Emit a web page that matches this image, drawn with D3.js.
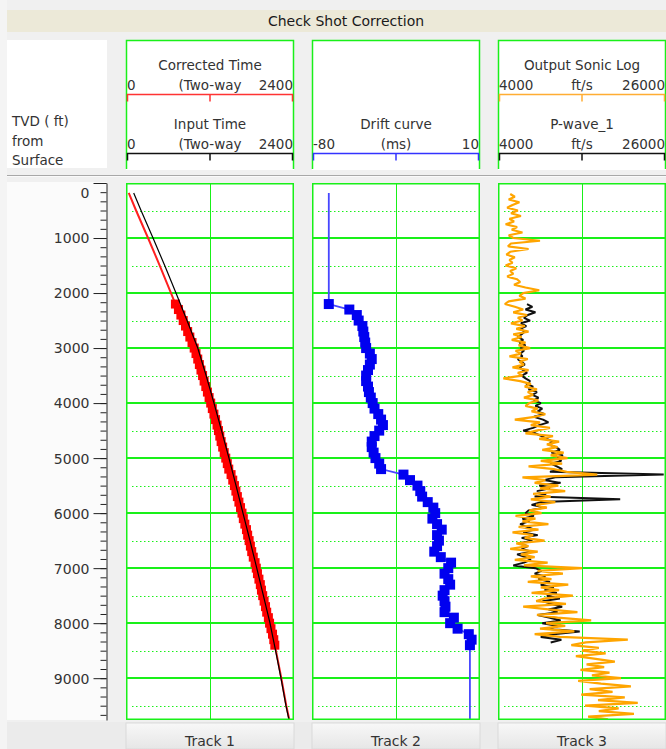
<!DOCTYPE html>
<html>
<head>
<meta charset="utf-8">
<script src="https://cdn.jsdelivr.net/npm/d3@7"></script>
<style>
body { margin: 0; background: #f4f4f4; }
svg { display: block; font-family: 'DejaVu Sans', sans-serif; }
</style>
</head>
<body>
<svg width="666" height="749"></svg>
<script>
/**
 */
var chartTitle = 'Check Shot Correction';
var depthLabel = ['TVD ( ft)', 'from', 'Surface'];
var trackNames = ['Track 1', 'Track 2', 'Track 3'];
var depthMax = 9760;
var depthTicks = [0, 1000, 2000, 3000, 4000, 5000, 6000, 7000, 8000, 9000];

// header curves: name, unit, scale min / max
var curveNames = ['Corrected Time', 'Input Time', 'Drift curve', 'Output Sonic Log', 'P-wave_1'];
var curveUnits = ['(Two-way', '(Two-way', '(ms)', 'ft/s', 'ft/s'];
var curveMin = [0, 0, -80, 4000, 4000];
var curveMax = [2400, 2400, 10, 26000, 26000];

// Track 1 - input time (two-way ms) against depth
var inputDepth = [180, 500, 1000, 1500, 2000, 2500, 3000, 3500, 4000, 4500, 5000,
    5500, 6000, 6500, 7000, 7500, 8000, 8500, 9000, 9500, 9760];
var inputTime = [110, 215, 386, 553, 714, 872, 1025, 1145, 1257, 1365, 1471,
    1572, 1671, 1771, 1868, 1963, 2057, 2137, 2214, 2285, 2329];

// Track 1 - corrected time above and below the check shots
var correctedTopDepth = [180, 500, 1000, 1500, 2000];
var correctedTopTime = [39, 144, 315, 482, 643];
var correctedBottomDepth = [8500, 9000, 9500, 9760];
var correctedBottomTime = [2142, 2219, 2290, 2334];

// check shot stations (every 100 ft)
var checkshotDepth = d3.range(2200, 8401, 100);
var correctedTime = [706, 749, 784, 817, 850,
    881, 912, 943, 974, 1000,
    1025, 1048, 1071, 1094, 1116,
    1140, 1163, 1187, 1210, 1233,
    1256, 1279, 1301, 1321, 1340,
    1359, 1381, 1403, 1425, 1447,
    1468, 1501, 1525, 1549, 1570,
    1591, 1613, 1636, 1657, 1676,
    1698, 1721, 1738, 1759, 1777,
    1796, 1818, 1844, 1861, 1878,
    1899, 1919, 1935, 1953, 1973,
    1993, 2010, 2034, 2051, 2071,
    2093, 2111, 2126];

// Track 2 - drift (ms) at the check shots
var driftTopDepth = 180;
var driftTop = -71;
var driftBottom = 4.6;
var drift = [-71, -60, -56, -55, -53,
    -52.5, -52, -51.5, -51, -49,
    -48, -49, -50, -51, -51,
    -50, -49.5, -48.5, -47.5, -46.5,
    -44.5, -43, -42, -44, -46.5,
    -48, -48, -47, -46, -44,
    -43, -31, -27.5, -23.5, -22,
    -21, -18, -15, -14, -15.5,
    -13, -10.5, -13, -12, -13,
    -14.5, -11, -5.5, -7, -9,
    -7, -6, -9, -10, -9,
    -8.5, -9, -4, -6, -2,
    4, 5.5, 4.6];

// Track 3 - output sonic log (ft/s), every 50 ft from 200 ft
var sonicStart = 200, sonicStep = 50;
var sonicOut = [5600, 6200, 5400, 6800, 5900, 5200, 6600, 5700, 7000, 5500,
    6100, 5000, 6500, 5800, 7200, 5400, 6000, 9500, 5700, 5300,
    8000, 5600, 5100, 6200, 5500, 5900, 5000, 6400, 5600, 6000,
    5200, 6500, 6900, 6100, 7600, 9400, 7300, 6800, 7600, 5400,
    4900, 6200, 7300, 6000, 7800, 6600, 7200, 5700, 7500, 6400,
    8000, 6000, 7100, 5800, 7600, 6700, 8200, 6300, 7000, 5500,
    7900, 6800, 7400, 5900, 8000, 6600, 7200, 4700, 6900, 8300,
    7500, 9100, 7900, 8600, 7400, 9300, 8100, 7600, 9200, 8400,
    10200, 8800, 6200, 9500, 8300, 10800, 9000, 7600, 11200, 9400,
    12000, 10400, 11800, 9800, 12600, 10900, 13100, 9600, 12400, 8000,
    11300, 13000, 17000, 7200, 10200, 8800, 11900, 9500, 12800, 8600,
    10900, 8300, 11500, 9000, 10400, 8100, 9700, 6300, 8900, 7200,
    10600, 6700, 9300, 5900, 8600, 7500, 10100, 6400, 8000, 5600,
    9200, 7000, 8800, 6200, 10500, 7400, 15000, 9200, 12500, 8300,
    11000, 7900, 13200, 9600, 12000, 8400, 13800, 10200, 9000, 12900,
    7300, 10600, 14400, 9100, 11800, 16200, 10300, 12800, 9500, 14000,
    8800, 12100, 21000, 15500, 13600, 17200, 15000, 18100, 14200, 16800,
    19300, 15600, 17900, 14800, 18600, 16300, 20100, 14500, 17500, 21400,
    16000, 19000, 14900, 20600, 17100, 22300, 15400, 19800, 17200, 21800,
    15800, 18400];

// Track 3 - P-wave_1 (ft/s), every 50 ft from 2200 ft
var pwaveStart = 2200, pwaveStep = 50;
var pwave = [7800, 8500, 7600, 8900, 7900, 7400, 8200, 7000, 7700, 6900,
    7500, 7100, 6600, 7300, 6800, 7600, 7000, 7400, 6900, 7200,
    6600, 7100, 7500, 6800, 7300, 7800, 7100, 7600, 8200, 7700,
    8600, 8000, 9100, 8500, 9300, 8700, 9600, 8900, 9800, 9200,
    10100, 8700, 9900, 10600, 9400, 8600, 7300, 8900, 9700, 10400,
    11200, 10600, 11600, 12100, 11000, 12500, 11800, 12300, 10900, 11700,
    12400, 10800, 25700, 11500, 10000, 12200, 9400, 10800, 9100, 10300,
    8800, 20000, 9600, 8400, 10100, 8000, 7600, 8700, 7200, 8100,
    6900, 7800, 8800, 7300, 9200, 7100, 8500, 6700, 7900, 7100,
    8400, 6500, 7600, 8300, 7400, 6000, 8900, 9700, 8800, 10200,
    9300, 10800, 9600, 11300, 10100, 11700, 10400, 12100, 9800, 11000,
    12400, 10600, 11800, 9200, 10800, 12200, 9800, 11900, 10500, 14700,
    11300, 9600, 12300, 10900];

/**
 * Layout
 */
var svg = d3.select('svg');
var svgWidth = +svg.attr('width');
var svgHeight = +svg.attr('height');

var panelLeft = 7;
var trackLeft = [126, 312, 498];
var trackWidth = 168;
var headerTop = 40, headerBottom = 168;
var bodyTop = 183, bodyBottom = 720;
var gridColor = '#19f019';
var textColor = '#333';

var yScale = d3.scaleLinear().domain([0, depthMax]).range([bodyTop, bodyBottom]);

// one x scale per curve, placed in its track
var curveTrack = [0, 0, 1, 2, 2];
var xScales = curveMin.map(function(mn, i) {
    var x0 = trackLeft[curveTrack[i]];
    return d3.scaleLinear().domain([mn, curveMax[i]]).range([x0, x0 + trackWidth]);
});

// page background
svg.append('rect').attr('x', panelLeft).attr('y', 0)
    .attr('width', svgWidth - panelLeft).attr('height', svgHeight).attr('fill', '#f0f0f0');

// title bar
svg.append('rect').attr('x', panelLeft).attr('y', 10)
    .attr('width', svgWidth - panelLeft).attr('height', 22).attr('fill', '#ece9d8');
svg.append('text').attr('x', 346).attr('y', 26)
    .attr('text-anchor', 'middle').attr('font-size', 14).attr('fill', '#1a1a1a')
    .text(chartTitle);

/**
 * Header
 */
svg.append('rect').attr('x', panelLeft).attr('y', headerTop)
    .attr('width', 100).attr('height', headerBottom - headerTop).attr('fill', '#fff');
svg.append('g').selectAll('text').data(depthLabel).enter().append('text')
    .attr('x', 12).attr('y', function(d, i) { return 126 + i * 19.5; })
    .attr('font-size', 13.5).attr('fill', textColor)
    .text(function(d) { return d; });

trackLeft.forEach(function(x0) {
    svg.append('rect').attr('x', x0).attr('y', headerTop)
        .attr('width', trackWidth).attr('height', headerBottom - headerTop + 2).attr('fill', '#fff');
    svg.append('path')
        .attr('d', 'M' + (x0 + 0.5) + ',' + (headerBottom + 1) + 'V' + (headerTop + 0.5) +
            'H' + (x0 + trackWidth - 0.5) + 'V' + (headerBottom + 1))
        .attr('fill', 'none').attr('stroke', gridColor).attr('stroke-width', 1.5);
});

// curve legends: row 0 sits at the top of the header, row 1 lower down
var curveRow = [0, 1, 1, 0, 1];
var curveColor = ['#ff3333', '#111', '#3333ff', '#ffad33', '#111'];
var headerG = svg.append('g').attr('fill', textColor).attr('font-size', 13.5);
curveNames.forEach(function(name, i) {
    var xs = xScales[i];
    var r = xs.range();
    var base = curveRow[i] === 0 ? 70 : 129;
    var lineY = base + 24.5;
    headerG.append('text').attr('x', (r[0] + r[1]) / 2).attr('y', base)
        .attr('text-anchor', 'middle').text(name);
    headerG.append('text').attr('x', r[0] + 1).attr('y', base + 20).text(curveMin[i]);
    headerG.append('text').attr('x', (r[0] + r[1]) / 2).attr('y', base + 20)
        .attr('text-anchor', 'middle').text(curveUnits[i]);
    headerG.append('text').attr('x', r[1] - 1).attr('y', base + 20)
        .attr('text-anchor', 'end').text(curveMax[i]);
    var mid = (curveMin[i] + curveMax[i]) / 2;
    svg.append('path')
        .attr('d', 'M' + (r[0] + 1.5) + ',' + (lineY + 7) + 'V' + lineY + 'H' + (r[1] - 1.5) +
            'V' + (lineY + 7) + 'M' + Math.round(xs(mid)) + ',' + lineY + 'V' + (lineY + 7))
        .attr('fill', 'none').attr('stroke', curveColor[i]).attr('stroke-width', 1.5);
});

// separator between header and body
svg.append('line').attr('x1', panelLeft).attr('x2', svgWidth).attr('y1', 175.5).attr('y2', 175.5)
    .attr('stroke', '#a8a8a8').attr('stroke-width', 1);
svg.append('line').attr('x1', panelLeft).attr('x2', svgWidth).attr('y1', 176.5).attr('y2', 176.5)
    .attr('stroke', '#fafafa').attr('stroke-width', 1);

/**
 * Depth axis
 */
svg.append('rect').attr('x', panelLeft).attr('y', 182)
    .attr('width', 100).attr('height', bodyBottom - 182).attr('fill', '#fbfbfb');

var minorTicks = d3.range(0, depthMax, 1000 / 6);
svg.append('g').attr('transform', 'translate(106.5,0)')
    .call(d3.axisLeft(yScale).tickValues(minorTicks).tickSize(6).tickFormat('').tickSizeOuter(0))
    .call(function(g) { g.select('.domain').remove(); })
    .selectAll('line').attr('stroke', '#222');

var depthAxis = svg.append('g').attr('transform', 'translate(106.5,0)')
    .call(d3.axisLeft(yScale).tickValues(depthTicks).tickFormat(d3.format('d'))
        .tickSize(13).tickPadding(4).tickSizeOuter(0));
depthAxis.select('.domain').attr('stroke', '#222');
depthAxis.selectAll('line').attr('stroke', '#222');
depthAxis.selectAll('text')
    .attr('font-family', 'DejaVu Sans, sans-serif').attr('font-size', 14).attr('fill', textColor)
    .attr('dy', function(d) { return d === 0 ? '1.0em' : '0.35em'; });

/**
 * Track bodies and grid
 */
var defs = svg.append('defs');
trackLeft.forEach(function(x0, t) {
    defs.append('clipPath').attr('id', 'clip' + t).append('rect')
        .attr('x', x0 + 1).attr('y', bodyTop).attr('width', trackWidth - 2).attr('height', bodyBottom - bodyTop);

    var g = svg.append('g');
    g.append('rect').attr('x', x0).attr('y', bodyTop)
        .attr('width', trackWidth).attr('height', bodyBottom - bodyTop).attr('fill', '#fff');
    // dotted half lines
    g.selectAll('.minor').data(d3.range(500, depthMax, 1000)).enter().append('line')
        .attr('x1', x0 + 6).attr('x2', x0 + trackWidth - 2)
        .attr('y1', function(d) { return Math.round(yScale(d)) + 0.5; })
        .attr('y2', function(d) { return Math.round(yScale(d)) + 0.5; })
        .attr('stroke', gridColor).attr('stroke-width', 1).attr('stroke-dasharray', '1.5,2.5');
    // solid thousand lines
    g.selectAll('.major').data(d3.range(1000, depthMax, 1000)).enter().append('line')
        .attr('x1', x0).attr('x2', x0 + trackWidth)
        .attr('y1', function(d) { return Math.round(yScale(d)); })
        .attr('y2', function(d) { return Math.round(yScale(d)); })
        .attr('stroke', gridColor).attr('stroke-width', 2);
    g.append('line').attr('x1', x0 + trackWidth / 2 + 0.5).attr('x2', x0 + trackWidth / 2 + 0.5)
        .attr('y1', bodyTop).attr('y2', bodyBottom)
        .attr('stroke', gridColor).attr('stroke-width', 1);
});

function pts(depths, values) {
    return depths.map(function(d, i) { return [values[i], d]; });
}

/**
 * Track 1: time-depth
 */
var t1 = svg.append('g').attr('clip-path', 'url(#clip0)');
var xTime = xScales[0];
var timeLine = d3.line()
    .x(function(p) { return xTime(p[0]); })
    .y(function(p) { return yScale(p[1]); });

var correctedPts = pts(correctedTopDepth, correctedTopTime)
    .concat(pts(checkshotDepth, correctedTime))
    .concat(pts(correctedBottomDepth, correctedBottomTime));
t1.append('path').datum(correctedPts).attr('d', timeLine)
    .attr('fill', 'none').attr('stroke', '#ff2020').attr('stroke-width', 2);
t1.selectAll('.cs').data(pts(checkshotDepth, correctedTime)).enter().append('rect')
    .attr('x', function(p) { return xTime(p[0]) - 4.5; })
    .attr('y', function(p) { return yScale(p[1]) - 4.5; })
    .attr('width', 9).attr('height', 9).attr('fill', '#ff0000');
t1.append('path').datum(pts(inputDepth, inputTime)).attr('d', timeLine)
    .attr('fill', 'none').attr('stroke', '#000').attr('stroke-width', 1.2);

/**
 * Track 2: drift
 */
var t2 = svg.append('g').attr('clip-path', 'url(#clip1)');
var xDrift = xScales[2];
var driftLine = d3.line()
    .x(function(p) { return xDrift(p[0]); })
    .y(function(p) { return yScale(p[1]); });
var driftPts = [[driftTop, driftTopDepth]]
    .concat(pts(checkshotDepth, drift))
    .concat([[driftBottom, depthMax]]);
t2.append('path').datum(driftPts).attr('d', driftLine)
    .attr('fill', 'none').attr('stroke', '#4747ff').attr('stroke-width', 1.8);
t2.selectAll('.cs').data(pts(checkshotDepth, drift)).enter().append('rect')
    .attr('x', function(p) { return xDrift(p[0]) - 5; })
    .attr('y', function(p) { return yScale(p[1]) - 5; })
    .attr('width', 10).attr('height', 10).attr('fill', '#0000f0');

/**
 * Track 3: sonic logs
 */
var t3 = svg.append('g').attr('clip-path', 'url(#clip2)');
var xSonic = xScales[3];
var sonicLine = d3.line()
    .x(function(p) { return xSonic(p[0]); })
    .y(function(p) { return yScale(p[1]); });
var pwavePts = pwave.map(function(v, i) { return [v, pwaveStart + i * pwaveStep]; });
var sonicPts = sonicOut.map(function(v, i) { return [v, sonicStart + i * sonicStep]; });
t3.append('path').datum(pwavePts).attr('d', sonicLine)
    .attr('fill', 'none').attr('stroke', '#111').attr('stroke-width', 2)
    .attr('stroke-linejoin', 'bevel');
t3.append('path').datum(sonicPts).attr('d', sonicLine)
    .attr('fill', 'none').attr('stroke', '#ffa500').attr('stroke-width', 2.2)
    .attr('stroke-linejoin', 'bevel');

// track borders on top of the curves
trackLeft.forEach(function(x0) {
    svg.append('rect').attr('x', x0 + 0.75).attr('y', bodyTop + 0.75)
        .attr('width', trackWidth - 1.5).attr('height', bodyBottom - bodyTop - 1.5)
        .attr('fill', 'none').attr('stroke', gridColor).attr('stroke-width', 1.5);
});

/**
 * Footer with track names
 */
var grad = defs.append('linearGradient').attr('id', 'foot').attr('x1', 0).attr('x2', 0).attr('y1', 0).attr('y2', 1);
grad.append('stop').attr('offset', '0%').attr('stop-color', '#f8f8f8');
grad.append('stop').attr('offset', '100%').attr('stop-color', '#e6e6e6');
svg.append('rect').attr('x', panelLeft).attr('y', 722)
    .attr('width', svgWidth - panelLeft).attr('height', svgHeight - 722).attr('fill', '#ebebeb');
svg.selectAll('.foot').data(trackNames).enter().append('g')
    .each(function(name, i) {
        var g = d3.select(this);
        g.append('rect').attr('x', trackLeft[i]).attr('y', 723)
            .attr('width', trackWidth).attr('height', svgHeight - 723)
            .attr('fill', 'url(#foot)').attr('stroke', '#dadada');
        g.append('text').attr('x', trackLeft[i] + trackWidth / 2).attr('y', 746)
            .attr('text-anchor', 'middle').attr('font-size', 14).attr('fill', textColor)
            .text(name);
    });
</script>
</body>
</html>
